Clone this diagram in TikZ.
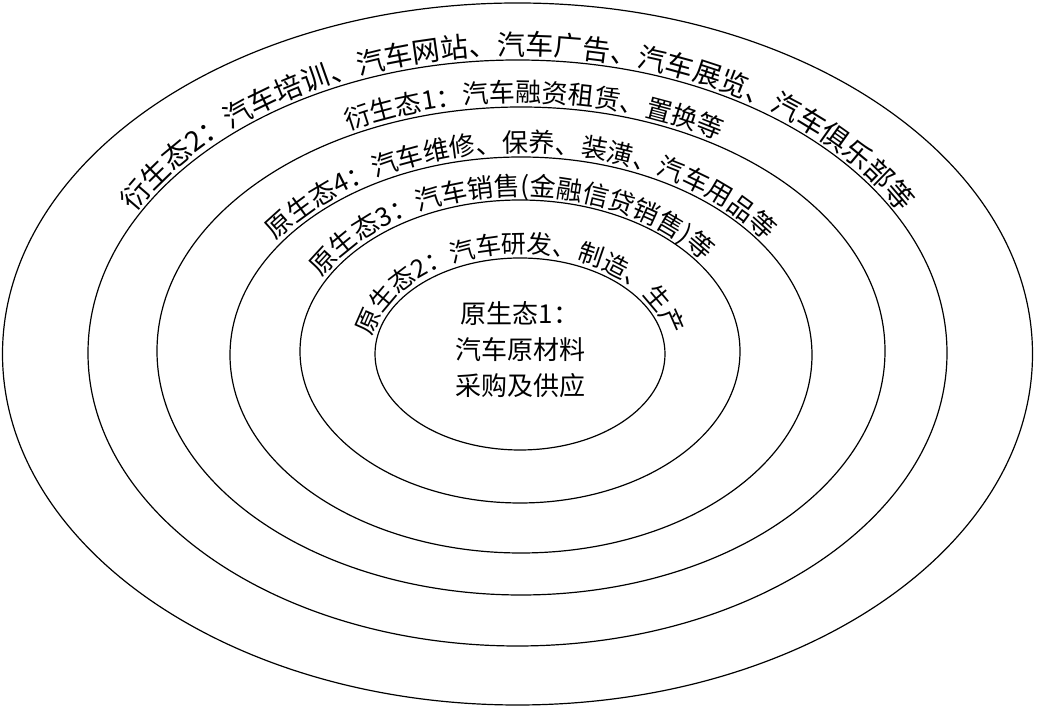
\documentclass[tikz,border=0pt]{standalone}
\usepackage{fontspec}
\newfontfamily\cjk{Noto Sans CJK SC}
\usetikzlibrary{decorations.text}
\def\H{714}

\begin{document}
\begin{tikzpicture}[
    x=1pt, y=1pt,
    ring/.style={draw=black, line width=1.2pt},
    arclabel/.style={
      decorate,
      decoration={text along path, text align=center, text={#1}}
    }
  ]
    \useasboundingbox (0,0) rectangle (1037,\H);

    % rings, outside to inside
    \draw[ring] (517.5,\H-354) ellipse [x radius=515, y radius=351];
    \draw[ring] (517.5,\H-353) ellipse [x radius=429.5, y radius=293];
    \draw[ring] (521,\H-351) ellipse [x radius=364, y radius=244];
    \draw[ring] (521,\H-355) ellipse [x radius=291, y radius=198];
    \draw[ring] (520,\H-351.5) ellipse [x radius=220, y radius=151.5];
    \draw[ring] (520,\H-354) ellipse [x radius=145, y radius=96];

    % labels along the rings
    \path[arclabel={|\cjk\fontsize{28}{30}\selectfont|衍生态2：汽车培训、汽车网站、汽车广告、汽车展览、汽车俱乐部等}]
      (517.5,\H-353) ++(180:434 and 298) arc [start angle=180, end angle=0, x radius=434, y radius=298];
    \path[arclabel={|\cjk\fontsize{26}{28}\selectfont|衍生态1：汽车融资租赁、置换等}]
      (521,\H-351) ++(177:369 and 249) arc [start angle=177, end angle=-3, x radius=369, y radius=249];
    \path[arclabel={|\cjk\fontsize{26}{28}\selectfont|原生态4：汽车维修、保养、装潢、汽车用品等}]
      (521,\H-355) ++(180:296 and 203) arc [start angle=180, end angle=0, x radius=296, y radius=203];
    \path[arclabel={|\cjk\fontsize{26}{28}\selectfont|原生态3：汽车销售(金融信贷销售)等}]
      (520,\H-351.5) ++(184:225 and 156) arc [start angle=184, end angle=4, x radius=225, y radius=156];
    \path[arclabel={|\cjk\fontsize{25}{28}\selectfont|原生态2：汽车研发、制造、生产}]
      (520,\H-354) ++(180:150 and 101) arc [start angle=180, end angle=0, x radius=150, y radius=101];

    \node[align=center, font=\cjk\fontsize{26}{36}\selectfont] (core) at (520,\H-350)
      {原生态1：\\汽车原材料\\采购及供应};
  \end{tikzpicture}
\end{document}
